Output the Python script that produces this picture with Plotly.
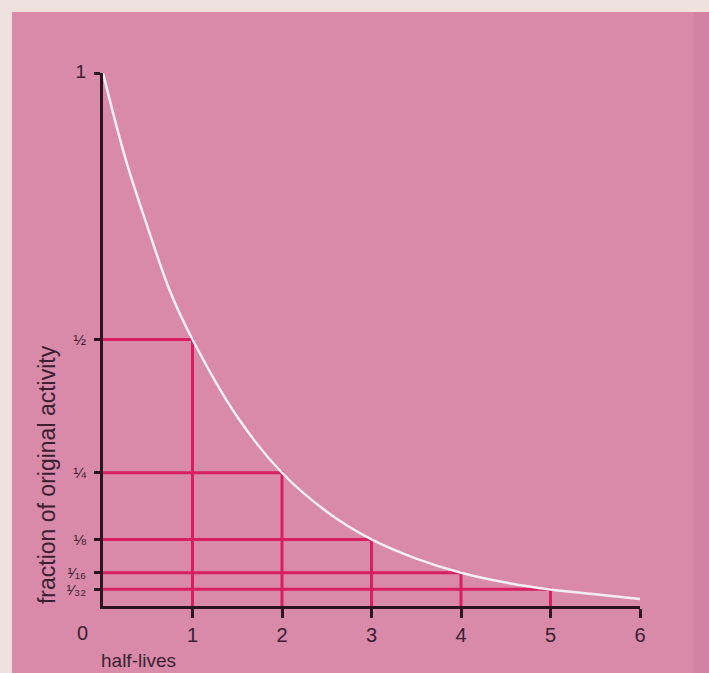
import plotly.graph_objects as go

# ---- data ----
half_lives = [1, 2, 3, 4, 5]
fractions = [0.5, 0.25, 0.125, 0.0625, 0.03125]
x_ticks = [1, 2, 3, 4, 5, 6]
x_tick_labels = ["1", "2", "3", "4", "5", "6"]
y_ticks = [1, 0.5, 0.25, 0.125, 0.0625, 0.03125]
y_tick_labels = ["<span style='font-size:19px'>1</span>", "½", "¼", "⅛", "¹⁄₁₆", "¹⁄₃₂"]
curve_x = [0, 0.25, 0.5, 0.75, 1, 1.5, 2, 2.5, 3, 3.5, 4, 4.5, 5, 5.5, 6]
curve_y = [1, 0.84, 0.71, 0.59, 0.5, 0.355, 0.25, 0.177, 0.125, 0.089, 0.0625, 0.044, 0.031, 0.022, 0.013]

PINK = "#d88aa8"
RED = "#d81f5f"
INK = "#2b1420"
TEXT = "#3a2030"

fig = go.Figure()

# red step lines
for n, f in zip(half_lives, fractions):
    fig.add_trace(go.Scatter(x=[0, n, n], y=[f, f, 0], mode="lines",
                             line=dict(color=RED, width=3), hoverinfo="skip",
                             showlegend=False, cliponaxis=False))

# white decay curve
fig.add_trace(go.Scatter(x=curve_x, y=curve_y, mode="lines",
                         line=dict(color="#f6eef2", width=2.5, shape="spline"),
                         showlegend=False, cliponaxis=False))

fig.update_layout(
    width=709, height=673,
    margin=dict(l=103, r=69, t=73, b=67),
    paper_bgcolor="#eee2de",
    plot_bgcolor=PINK,
    font=dict(family="Liberation Sans, Arial, sans-serif", color=TEXT),
    xaxis=dict(range=[0, 6], showgrid=False, zeroline=False,
               showline=True, linecolor=INK, linewidth=3,
               tickvals=x_ticks, ticktext=x_tick_labels,
               ticks="outside", ticklen=9, tickwidth=3, tickcolor=INK,
               tickfont=dict(size=20, color=TEXT)),
    yaxis=dict(range=[0, 1], showgrid=False, zeroline=False,
               showline=True, linecolor=INK, linewidth=3,
               tickvals=y_ticks, ticktext=y_tick_labels,
               ticks="outside", ticklen=6, tickwidth=3, tickcolor=INK,
               ticklabelstandoff=5,
               tickfont=dict(size=15, color=TEXT)),
    shapes=[
        dict(type="rect", xref="paper", yref="paper", x0=-0.1695, x1=1.2,
             y0=-0.2, y1=1.1144, fillcolor=PINK, line=dict(width=0), layer="below"),
        dict(type="rect", xref="paper", yref="paper", x0=1.1, x1=1.2,
             y0=-0.2, y1=1.1144, fillcolor="#d282a2", line=dict(width=0), layer="below"),
    ],
    annotations=[
        dict(text="0", x=0, y=0, xref="x", yref="y", xshift=-21, yshift=-27,
             showarrow=False, font=dict(size=20, color=TEXT)),
        dict(text="half-lives", x=0, y=0, xref="x", yref="y", xanchor="left",
             xshift=-4, yshift=-54, showarrow=False, font=dict(size=19, color=TEXT)),
        dict(text="fraction of original activity", xref="paper", yref="paper",
             x=-0.104, y=0.246, xanchor="center", yanchor="middle",
             textangle=-90, showarrow=False,
             font=dict(size=23, color=TEXT)),
    ],
)

fig.write_html("out.html", post_script="document.body.style.margin='0';",
               config={"displayModeBar": False})
